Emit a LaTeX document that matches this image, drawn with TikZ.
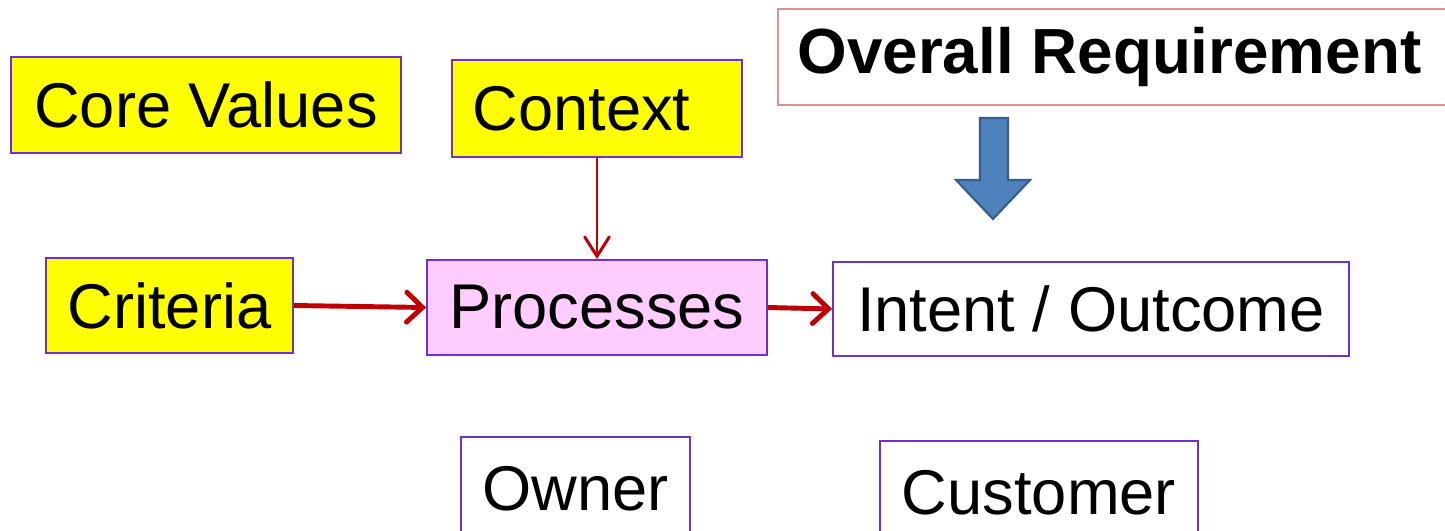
\documentclass[tikz,border=0pt]{standalone}
\usepackage{fontspec}
\setmainfont{Liberation Sans}
\usetikzlibrary{arrows.meta}
\definecolor{boxedge}{HTML}{7030D0}
\definecolor{reqedge}{HTML}{D99594}
\definecolor{flowred}{HTML}{C00000}
\definecolor{pinkfill}{HTML}{FFCCFF}
\definecolor{cardyellow}{HTML}{FFFF00}
\definecolor{arrowblue}{HTML}{4F81BD}
\definecolor{arrowedge}{HTML}{385D8A}
\tikzset{
  card/.style={draw=boxedge, line width=1.1pt, inner sep=0pt,
    font=\fontsize{36}{43}\selectfont, anchor=center},
  yellowcard/.style={card, fill=cardyellow},
  flow/.style={draw=flowred, line width=2.8pt,
    -{Straight Barb[length=9pt, width=17pt, line cap=round]}},
  thinflow/.style={draw=flowred, line width=1.7pt,
    -{Straight Barb[length=11pt, width=14pt, line cap=round]}},
}
\begin{document}
\begin{tikzpicture}[x=0.02cm, y=-0.02cm]
  \useasboundingbox (0,0) rectangle (1445,531);
  \clip (0,0) rectangle (1445,531);
  \fill[white] (0,0) rectangle (1445,531);

  % top row
  \node[yellowcard, minimum width=7.8cm, minimum height=1.92cm] (core) at (206,105) {Core Values};
  \node[yellowcard, minimum width=5.8cm, minimum height=1.94cm] (context) at (597,108.5) {Context\kern0.62cm};
  \node[draw=reqedge, line width=1.1pt, fill=white, minimum width=13.64cm, minimum height=1.92cm,
        inner sep=0pt, font=\fontsize{36.3}{43}\selectfont\bfseries] (req) at (1119,57) {Overall Requirement\kern0.38cm};

  % block arrow under the requirement
  \draw[fill=arrowblue, draw=arrowedge, line width=1.2pt, line join=miter]
    (980,118) -- (1008,118) -- (1008,180) -- (1030,180) -- (993,219)
    -- (956,180) -- (980,180) -- cycle;

  % middle row
  \node[yellowcard, minimum width=4.94cm, minimum height=1.9cm] (criteria) at (169.5,305.5) {Criteria};
  \node[card, fill=pinkfill, minimum width=6.8cm, minimum height=1.9cm] (proc) at (597,307.5) {Processes};
  \node[card, fill=white, minimum width=10.32cm, minimum height=1.88cm] (intent) at (1091,309) {Intent / Outcome};

  % bottom row
  \node[card, fill=white, minimum width=4.58cm, minimum height=2.06cm] (owner) at (575.5,488.5) {Owner};
  \node[card, fill=white, minimum width=6.36cm, minimum height=2.08cm] (customer) at (1039,493) {Customer};

  % connectors
  \draw[thinflow] (context.south) -- (proc.north);
  \draw[flow] (criteria.east) -- (proc.west);
  \draw[flow] (proc.east) -- (intent.west);
\end{tikzpicture}
\end{document}
